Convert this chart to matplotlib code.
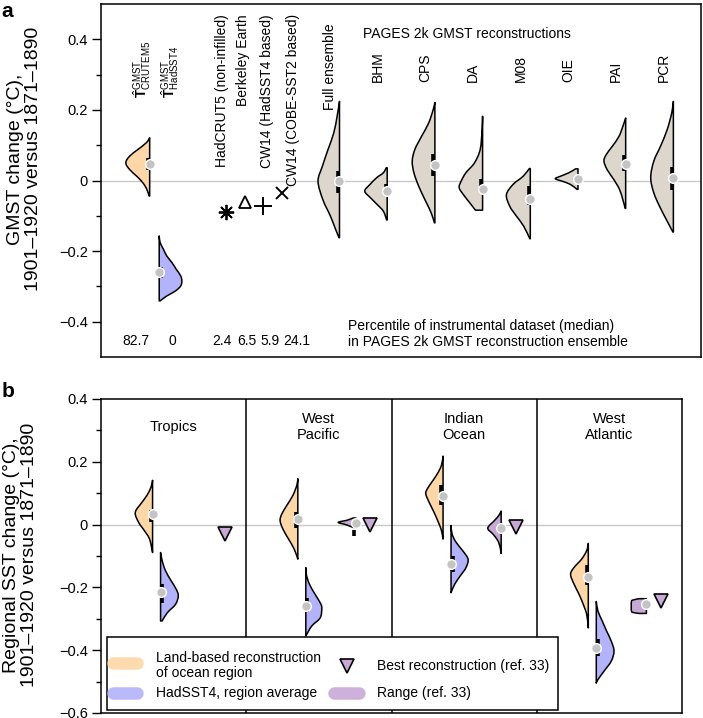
import numpy as np
import matplotlib.pyplot as plt
from matplotlib.path import Path
from matplotlib.patches import PathPatch, Rectangle
from matplotlib.transforms import offset_copy

plt.rcParams['font.family'] = ['Liberation Sans', 'DejaVu Sans']
plt.rcParams['mathtext.fontset'] = 'custom'
plt.rcParams['mathtext.rm'] = 'Liberation Sans'
plt.rcParams['mathtext.bf'] = 'Liberation Sans:bold'

# ---------------- panel a data ----------------
# GMST estimates built from CRUTEM5 / HadSST4 (half violins: levels and half widths)
est_labels = [r'$\hat{\mathbf{T}}^{\mathrm{GMST}}_{\mathrm{CRUTEM5}}$',
              r'$\hat{\mathbf{T}}^{\mathrm{GMST}}_{\mathrm{HadSST4}}$']
est_y = [[-0.044, -0.025, -0.007, 0.012, 0.031, 0.05, 0.069, 0.088, 0.107, 0.121],
         [-0.341, -0.327, -0.313, -0.299, -0.285, -0.270, -0.252, -0.233, -0.214,
          -0.195, -0.176, -0.157]]
est_w = [[0.01, 0.06, 0.14, 0.27, 0.42, 0.50, 0.42, 0.245, 0.07, 0.0],
         [0.02, 0.16, 0.34, 0.45, 0.475, 0.45, 0.36, 0.27, 0.16, 0.09, 0.02, 0.0]]
est_med = [0.047, -0.259]
est_iqr = [(0.031, 0.065), (-0.275, -0.245)]
est_pct = ['82.7', '0']

# instrumental datasets
inst_names = ['HadCRUT5 (non-infilled)', 'Berkeley Earth',
              'CW14 (HadSST4 based)', 'CW14 (COBE-SST2 based)']
inst_vals = [-0.088, -0.062, -0.073, -0.035]
inst_pct = ['2.4', '6.5', '5.9', '24.1']

# PAGES 2k reconstructions
pages_names = ['Full ensemble', 'BHM', 'CPS', 'DA', 'M08', 'OIE', 'PAI', 'PCR']
pages_y = [
    [-0.162, -0.139, -0.101, -0.054, -0.002, 0.040, 0.088, 0.135, 0.182, 0.224],
    [-0.112, -0.087, -0.068, -0.049, -0.030, -0.011, 0.008, 0.022, 0.036],
    [-0.120, -0.091, -0.054, -0.016, 0.022, 0.055, 0.088, 0.125, 0.163, 0.201, 0.221],
    [-0.084, -0.063, -0.044, -0.021, -0.002, 0.022, 0.050, 0.088, 0.144, 0.182],
    [-0.165, -0.129, -0.101, -0.073, -0.040, -0.011, 0.012, 0.034],
    [-0.025, -0.011, -0.002, 0.005, 0.012, 0.022, 0.033],
    [-0.079, -0.054, -0.025, 0.003, 0.031, 0.055, 0.073, 0.097, 0.125, 0.153, 0.177],
    [-0.146, -0.110, -0.073, -0.035, 0.008, 0.055, 0.097, 0.144, 0.191, 0.224],
]
pages_w = [
    [0.01, 0.08, 0.19, 0.35, 0.45, 0.36, 0.24, 0.12, 0.05, 0.0],
    [0.01, 0.08, 0.21, 0.35, 0.47, 0.36, 0.22, 0.08, 0.02],
    [0.01, 0.08, 0.21, 0.34, 0.44, 0.475, 0.42, 0.28, 0.13, 0.035, 0.0],
    [0.15, 0.27, 0.38, 0.49, 0.45, 0.35, 0.17, 0.05, 0.01, 0.0],
    [0.01, 0.14, 0.29, 0.43, 0.50, 0.36, 0.15, 0.02],
    [0.02, 0.16, 0.33, 0.475, 0.37, 0.19, 0.05],
    [0.01, 0.06, 0.13, 0.25, 0.39, 0.455, 0.41, 0.28, 0.14, 0.06, 0.0],
    [0.01, 0.15, 0.29, 0.41, 0.475, 0.41, 0.27, 0.13, 0.035, 0.0],
]
pages_med = [0.0, -0.030, 0.045, -0.023, -0.052, 0.005, 0.048, 0.008]
pages_iqr = [(-0.035, 0.026), (-0.035, -0.011), (0.014, 0.075), (-0.033, 0.005),
             (-0.068, -0.016), (0.0, 0.01), (0.026, 0.073), (-0.028, 0.039)]

# ---------------- panel b data ----------------
regions = ['Tropics', 'West\nPacific', 'Indian\nOcean', 'West\nAtlantic']
land_y = [
    [-0.089, -0.046, -0.019, 0.007, 0.039, 0.071, 0.093, 0.119, 0.141],
    [-0.110, -0.078, -0.046, -0.014, 0.013, 0.034, 0.061, 0.093, 0.125, 0.146],
    [-0.046, -0.019, 0.007, 0.039, 0.071, 0.098, 0.114, 0.135, 0.162, 0.189, 0.218],
    [-0.329, -0.286, -0.249, -0.217, -0.185, -0.158, -0.137, -0.110, -0.083, -0.060],
]
land_w = [
    [0.0, 0.021, 0.057, 0.096, 0.119, 0.073, 0.039, 0.011, 0.0],
    [0.0, 0.025, 0.064, 0.103, 0.122, 0.110, 0.076, 0.034, 0.007, 0.0],
    [0.0, 0.011, 0.032, 0.062, 0.096, 0.119, 0.108, 0.078, 0.039, 0.011, 0.0],
    [0.0, 0.011, 0.039, 0.069, 0.103, 0.122, 0.099, 0.046, 0.011, 0.0],
]
land_med = [0.034, 0.018, 0.090, -0.166]
land_iqr = [(0.007, 0.045), (-0.01, 0.04), (0.061, 0.125), (-0.194, -0.13)]

had_y = [
    [-0.307, -0.281, -0.254, -0.227, -0.206, -0.179, -0.147, -0.115, -0.089],
    [-0.355, -0.323, -0.297, -0.265, -0.249, -0.222, -0.190, -0.158, -0.137],
    [-0.217, -0.190, -0.163, -0.137, -0.110, -0.083, -0.056, -0.030, -0.003],
    [-0.505, -0.494, -0.467, -0.435, -0.403, -0.371, -0.339, -0.307, -0.275, -0.245],
]
had_w = [
    [0.011, 0.046, 0.103, 0.122, 0.108, 0.073, 0.034, 0.011, 0.0],
    [0.0, 0.041, 0.099, 0.110, 0.099, 0.064, 0.025, 0.003, 0.0],
    [0.0, 0.025, 0.064, 0.103, 0.117, 0.080, 0.034, 0.007, 0.0],
    [0.0, 0.011, 0.053, 0.103, 0.122, 0.103, 0.071, 0.041, 0.011, 0.0],
]
had_med = [-0.214, -0.259, -0.126, -0.393]
had_iqr = [(-0.25, -0.19), (-0.28, -0.235), (-0.15, -0.10), (-0.42, -0.365)]

# ref. 33 range (no range for Tropics)
ref_y = [None,
         [-0.009, 0.0, 0.007, 0.014, 0.021],
         [-0.092, -0.073, -0.051, -0.030, -0.011, 0.013, 0.029, 0.043],
         [-0.283, -0.280, -0.275, -0.245, -0.240, -0.236]]
ref_w = [None,
         [0.02, 0.07, 0.122, 0.06, 0.02],
         [0.0, 0.007, 0.023, 0.057, 0.092, 0.046, 0.016, 0.0],
         [0.05, 0.09, 0.103, 0.103, 0.09, 0.05]]
ref_med = [None, 0.004, -0.011, -0.254]
ref_iqr = [None, (-0.035, -0.016), (-0.02, 0.0), None]
best_vals = [-0.03, 0.0, -0.009, -0.243]

C_LAND = '#fdd7a7'
C_HAD = '#b3b3fb'
C_REF = '#c8a9d6'
C_PAGES = '#ddd6cd'


def smooth(xs, ys):
    pts = np.column_stack([xs, ys])
    n = len(pts)
    verts = [pts[0]]
    codes = [Path.MOVETO]
    for i in range(n - 1):
        p0 = pts[max(i - 1, 0)]
        p1 = pts[i]
        p2 = pts[i + 1]
        p3 = pts[min(i + 2, n - 1)]
        verts += [p1 + (p2 - p0) / 6, p2 - (p3 - p1) / 6, p2]
        codes += [Path.CURVE4] * 3
    return verts, codes


def half_violin(ax, pos, ys, ws, side, color, med, iqr):
    ys = np.asarray(ys, float)
    xs = pos + side * np.asarray(ws, float)
    verts, codes = smooth(xs, ys)
    verts += [(pos, ys[-1]), (pos, ys[0]), (pos, ys[0])]
    codes += [Path.LINETO, Path.LINETO, Path.CLOSEPOLY]
    ax.add_patch(PathPatch(Path(verts, codes), fc=color, ec='black', lw=1.1,
                           joinstyle='round', zorder=3))
    if iqr is not None:
        tr = offset_copy(ax.transData, fig=ax.figure, x=side * 1.2, units='points')
        ax.plot([pos, pos], iqr, color='black', lw=2.6, solid_capstyle='butt',
                transform=tr, zorder=3.5)
    ax.plot(pos, med, 'o', ms=7, mfc='#c4c4c4', mec='white', mew=1.0, zorder=4)


def style_y(ax, major, minor):
    ax.set_yticks(major)
    ax.set_yticklabels(['0' if v == 0 else f'{v:.1f}'.replace('-', '\u2212') for v in major])
    ax.set_yticks(minor, minor=True)
    ax.set_xticks([])
    ax.tick_params(axis='y', which='major', direction='out', length=6.5, width=1,
                   labelsize=10.5, pad=3)
    ax.tick_params(axis='y', which='minor', direction='out', length=3.5, width=1)
    for s in ax.spines.values():
        s.set_linewidth(1.1)


fig = plt.figure(figsize=(7.03, 7.18), dpi=100)
axa = fig.add_axes([0.1437, 0.5028, 0.8535, 0.4916])
axb = fig.add_axes([0.1437, 0.0070, 0.8264, 0.4373])

# ---------------- panel a ----------------
axa.set_xlim(0, 12.58)
axa.set_ylim(-0.5, 0.5)
axa.axhline(0, color='#c9c9c9', lw=1, zorder=1)

est_pos = [1.02, 1.22]
est_side = [-1, 1]
est_col = [C_LAND, C_HAD]
for i in range(2):
    half_violin(axa, est_pos[i], est_y[i], est_w[i], est_side[i], est_col[i],
                est_med[i], est_iqr[i])
for x, lab in zip([0.86, 1.45], est_labels):
    axa.text(x, 0.235, lab, rotation=90, ha='center', va='bottom', fontsize=10)

inst_pos = 2.62 + 0.39 * np.arange(4)
inst_mark = [dict(marker=(8, 2, 0), ms=11, mew=1.3),
             dict(marker='^', ms=9, mfc='none', mew=1.3),
             dict(marker='+', ms=13, mew=1.4),
             dict(marker='x', ms=9, mew=1.4)]
for x, v, mk in zip(inst_pos, inst_vals, inst_mark):
    axa.plot(x, v, color='black', mec='black', linestyle='none', zorder=4, **mk)
for x, lab in zip([2.53, 2.98, 3.47, 4.03], inst_names):
    axa.text(x, 0.472, lab, rotation=90, ha='center', va='top', fontsize=10)

pages_pos = 5 + np.arange(len(pages_names))
for i, p in enumerate(pages_pos):
    half_violin(axa, p, pages_y[i], pages_w[i], -1, C_PAGES, pages_med[i], pages_iqr[i])
    ly = 0.2 if i == 0 else 0.28
    axa.text(p - 0.2, ly, pages_names[i], rotation=90, ha='center', va='bottom',
             fontsize=10)
axa.text(5.49, 0.415, 'PAGES 2k GMST reconstructions', ha='left', va='center',
         fontsize=10)

for x, t in zip([0.73, 1.49, 2.54, 3.06, 3.54, 4.11], est_pct + inst_pct):
    axa.text(x, -0.455, t, ha='center', va='center', fontsize=10)
axa.text(5.18, -0.435, 'Percentile of instrumental dataset (median)\n'
         'in PAGES 2k GMST reconstruction ensemble', ha='left', va='center',
         fontsize=10, linespacing=1.15)

style_y(axa, [-0.4, -0.2, 0, 0.2, 0.4], [-0.3, -0.1, 0.1, 0.3])
axa.set_ylabel('GMST change (°C),\n1901\u20131920 versus 1871\u20131890',
               fontsize=14, linespacing=1.1)
axa.yaxis.set_label_coords(-0.098, 0.561)

# ---------------- panel b ----------------
axb.set_xlim(0, 4)
axb.set_ylim(-0.6, 0.4)
axb.axhline(0, color='#c9c9c9', lw=1, zorder=1)
for x in [1, 2, 3]:
    axb.axvline(x, color='black', lw=1.1, zorder=2)

for r in range(4):
    half_violin(axb, r + 0.355, land_y[r], land_w[r], -1, C_LAND, land_med[r], land_iqr[r])
    half_violin(axb, r + 0.41, had_y[r], had_w[r], 1, C_HAD, had_med[r], had_iqr[r])
    if ref_y[r] is not None:
        half_violin(axb, r + 0.755, ref_y[r], ref_w[r], -1, C_REF, ref_med[r], ref_iqr[r])
    axb.plot(r + 0.855, best_vals[r], 'v', ms=10.5, mfc=C_REF, mec='black',
             mew=1.2, zorder=4)
    axb.text(r + 0.5, 0.31, regions[r], ha='center', va='center', fontsize=10.5,
             linespacing=1.15)

style_y(axb, [-0.6, -0.4, -0.2, 0, 0.2, 0.4], [-0.5, -0.3, -0.1, 0.1, 0.3])
axb.set_ylabel('Regional SST change (°C),\n1901\u20131920 versus 1871\u20131890',
               fontsize=14, linespacing=1.1)
axb.yaxis.set_label_coords(-0.108, 0.503)

# legend, drawn by hand in axes coordinates
T = axb.transAxes
axb.add_patch(Rectangle((0.010, 0.0096), 0.777, 0.233, transform=T, fc='white',
                        ec='black', lw=1.1, zorder=6))
axb.plot([0.021, 0.062], [0.159, 0.159], transform=T, color=C_LAND, lw=9,
         solid_capstyle='round', alpha=0.9, zorder=7)
axb.plot([0.021, 0.062], [0.064, 0.064], transform=T, color=C_HAD, lw=9,
         solid_capstyle='round', alpha=0.9, zorder=7)
axb.plot([0.401, 0.444], [0.064, 0.064], transform=T, color=C_REF, lw=9,
         solid_capstyle='round', alpha=0.9, zorder=7)
axb.plot(0.423, 0.150, 'v', transform=T, ms=10, mfc=C_REF, mec='black', mew=1.2,
         zorder=7)
axb.text(0.0947, 0.150, 'Land-based reconstruction\nof ocean region', transform=T,
         ha='left', va='center', fontsize=10, linespacing=1.1, zorder=7)
axb.text(0.0947, 0.064, 'HadSST4, region average', transform=T, ha='left',
         va='center', fontsize=10, zorder=7)
axb.text(0.475, 0.150, 'Best reconstruction (ref. 33)', transform=T, ha='left',
         va='center', fontsize=10, zorder=7)
axb.text(0.475, 0.064, 'Range (ref. 33)', transform=T, ha='left', va='center',
         fontsize=10, zorder=7)

fig.text(0.002, 0.997, 'a', fontsize=15, fontweight='bold', ha='left', va='top')
fig.text(0.002, 0.468, 'b', fontsize=15, fontweight='bold', ha='left', va='top')

fig.savefig('out.png', dpi=100)
